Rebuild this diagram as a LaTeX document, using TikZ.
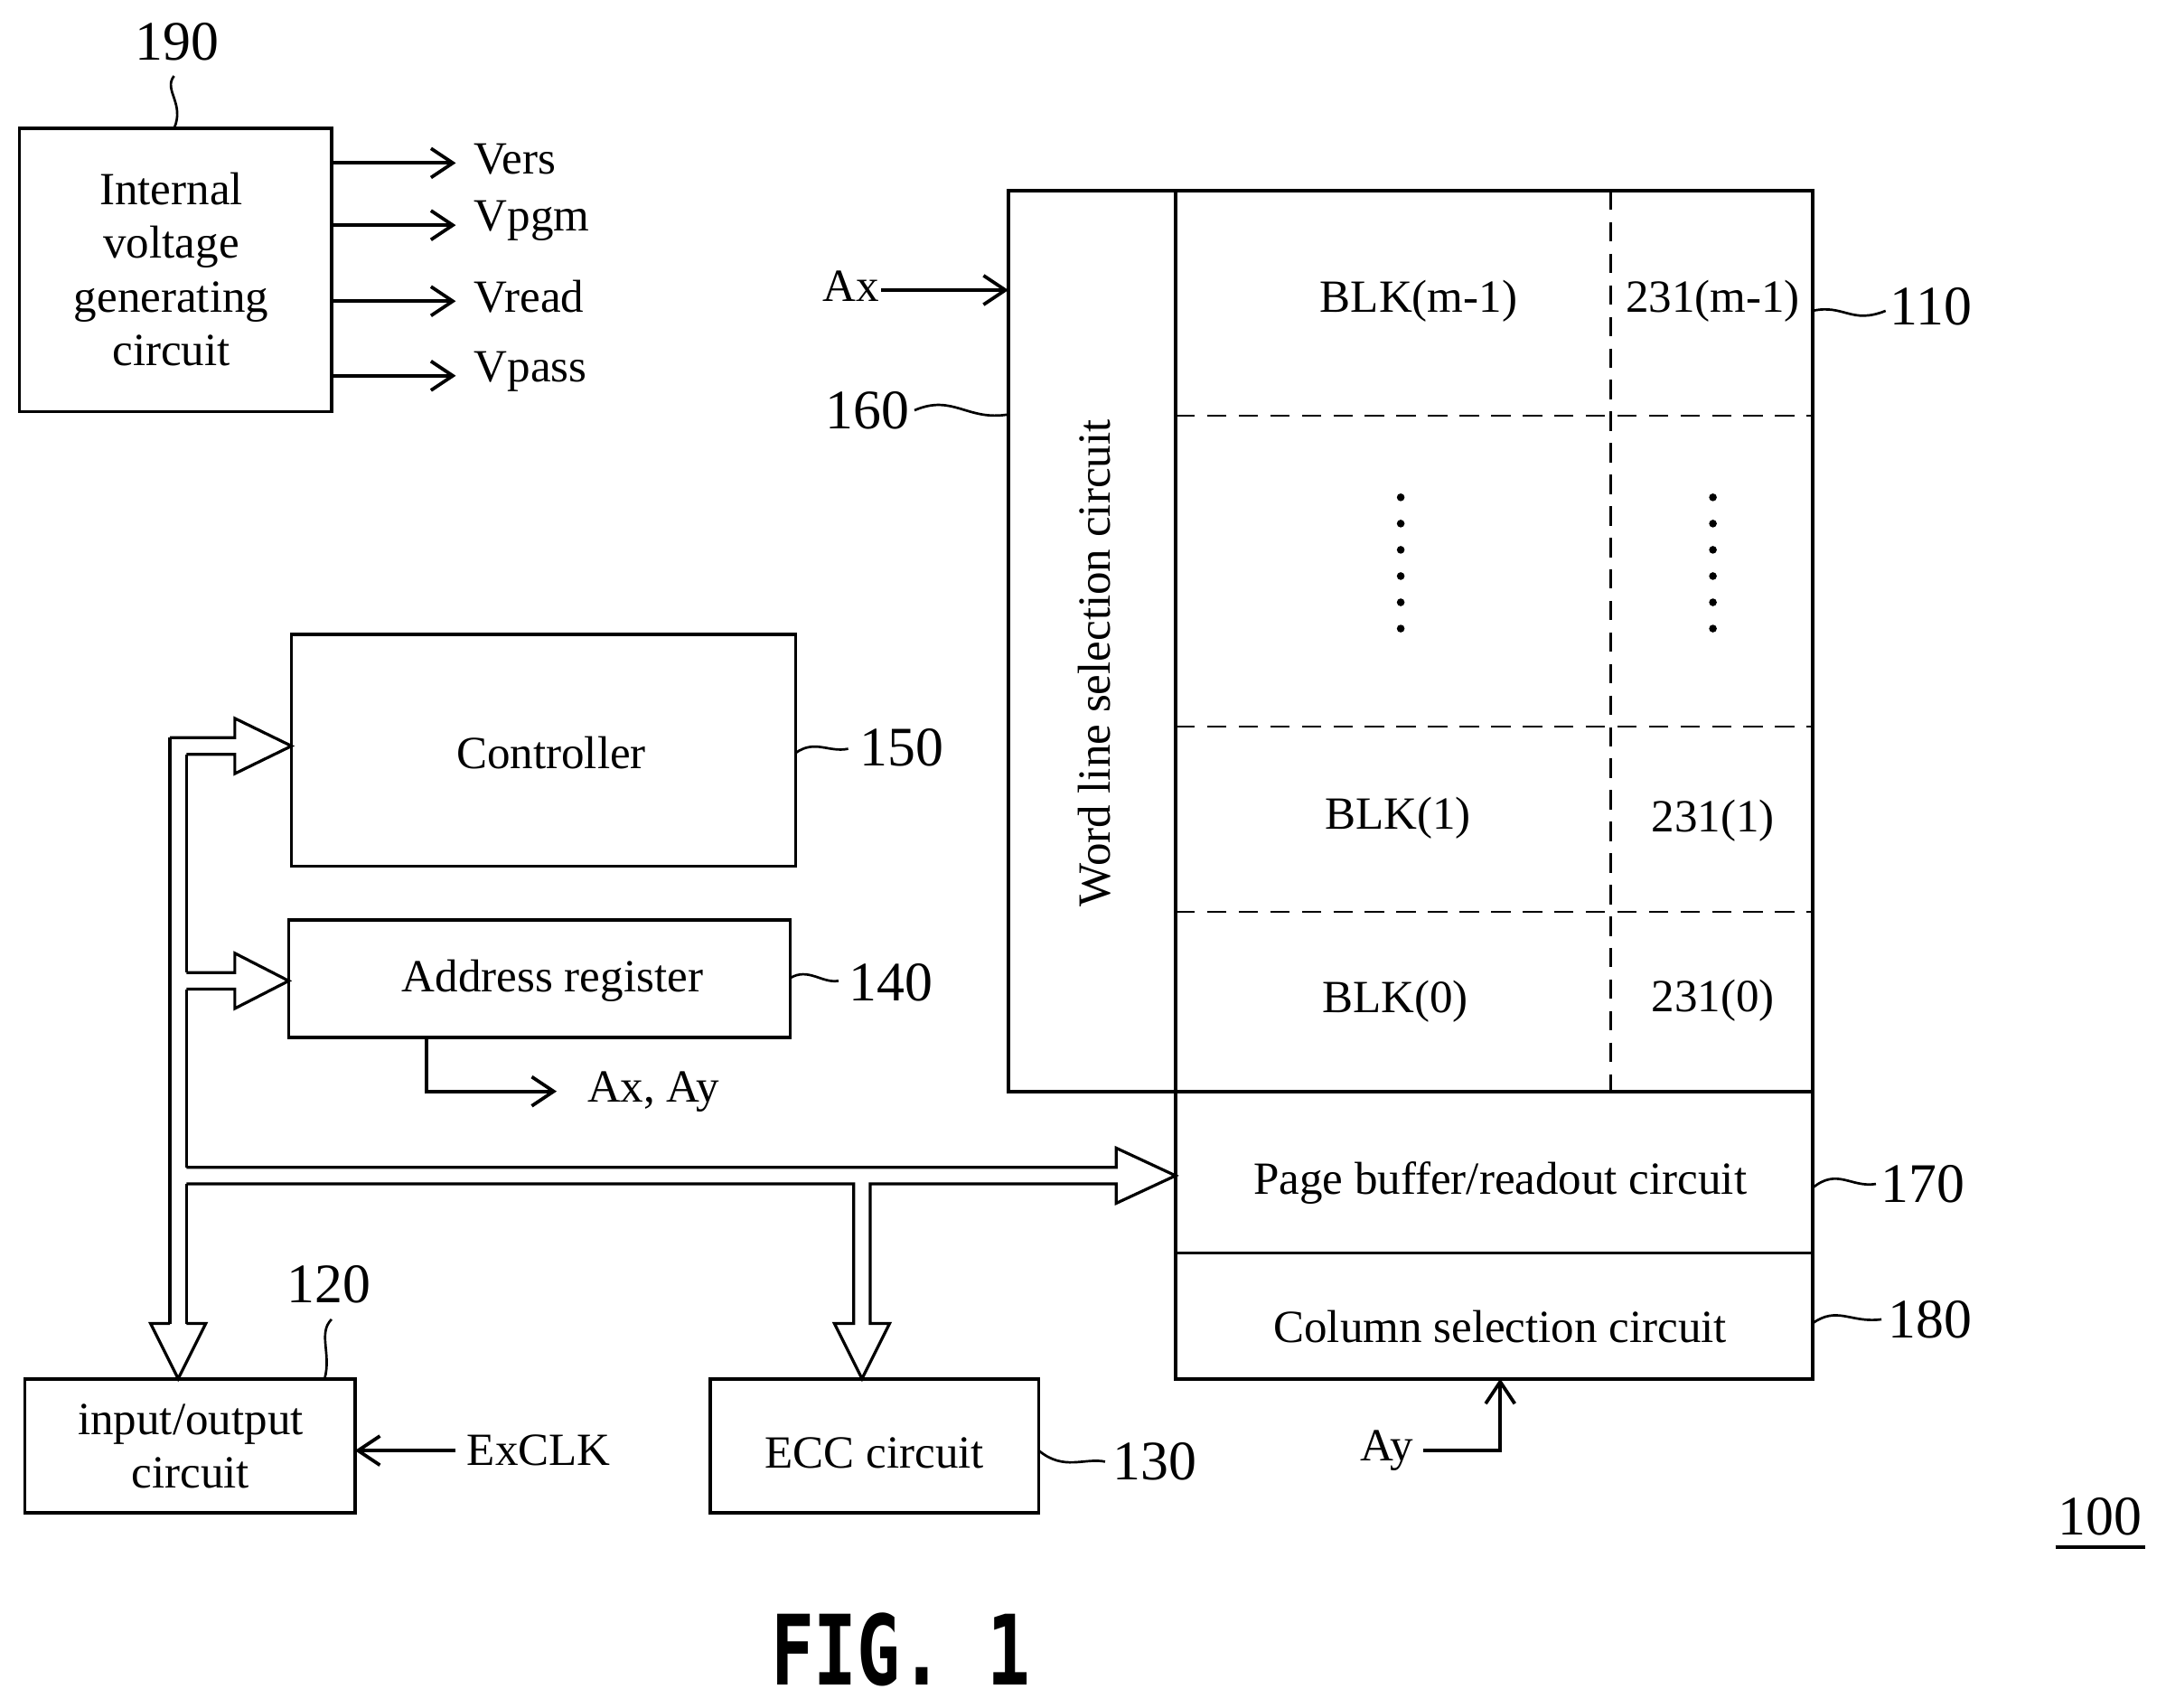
\documentclass[tikz,border=0pt]{standalone}
\usepackage{fontspec}
\usetikzlibrary{arrows.meta}
\setmainfont{Liberation Serif}
\newfontfamily\figfont{DejaVu Sans Mono}
\begin{document}
\begin{tikzpicture}[x=0.02cm,y=-0.02cm,line width=1.4pt,
 t/.style={font=\fontsize{19}{22}\selectfont,align=center,inner sep=0},
 num/.style={font=\fontsize{23}{26}\selectfont,inner sep=0},
 arr/.style={-{Straight Barb[length=9pt,width=12pt,line width=1.4pt]}},
 dsh/.style={dash pattern=on 8pt off 5pt,line width=1pt}]
\useasboundingbox (0,0) rectangle (1568,1236);
% 190
\draw (14,93) rectangle (240,298);
\node[t] (v190) at (124,195) {Internal\\voltage\\generating\\circuit};
\node[num] (n190) at (128,30) {190};
\draw[line width=1pt] (126,55) .. controls (118,65) and (134,75) .. (126,93);
\foreach \y/\l in {118/Vers,163/Vpgm,218/Vread,272/Vpass}{
 \coordinate (s\l) at (240,\y);
 \node[t,anchor=west] (o\l) at (342,\y-3) {\l};
 \draw[arr] (s\l) -- (330,\y);}
% array
\draw (730,138) rectangle (1312,790);
\draw (851,138) -- (851,790);
\draw[dsh] (1166,138) -- (1166,790);
\foreach \y in {301,526,660} \draw[dsh] (851,\y) -- (1312,\y);
\node[t] at (1027,218) {BLK(m-1)};
\node[t] at (1240,218) {231(m-1)};
\node[t] at (1012,592) {BLK(1)};
\node[t] at (1240,594) {231(1)};
\node[t] at (1010,725) {BLK(0)};
\node[t] at (1240,724) {231(0)};
\foreach \y in {360,379,398,417,436,455}{\fill (1014,\y) circle (1.6pt); \fill (1240,\y) circle (1.6pt);}
\node[t,rotate=90] (wl) at (792,480) {Word line selection circuit};
\node[t] (ax) at (616,207) {Ax};
\draw[arr] (638,210) -- (730,210);
\node[num] (n160) at (628,297) {160};
\draw[line width=1pt] (662,297) .. controls (690,285) and (700,305) .. (730,300);
\node[num] (n110) at (1398,222) {110};
\draw[line width=1pt] (1312,225) .. controls (1335,220) and (1340,235) .. (1365,225);
% page buffer, column
\draw (851,790) rectangle (1312,907);
\node[t] (pb) at (1086,856) {Page buffer/readout circuit};
\node[num] (n170) at (1392,857) {170};
\draw[line width=1pt] (1312,860) .. controls (1330,845) and (1340,860) .. (1358,857);
\draw (851,907) rectangle (1312,998);
\node[t] (cs) at (1086,960) {Column selection circuit};
\node[num] (n180) at (1397,955) {180};
\draw[line width=1pt] (1312,958) .. controls (1330,945) and (1340,958) .. (1362,955);
\node[t] (ay) at (1004,1050) {Ay};
\draw[arr] (1030,1050) -- (1086,1050) -- (1086,998);
% controller
\draw (211,459) rectangle (576,627);
\node[t] (ctl) at (399,545) {Controller};
\node[num] (n150) at (653,541) {150};
\draw[line width=1pt] (576,545) .. controls (590,535) and (600,545) .. (614,542);
\draw (209,666) rectangle (572,751);
\node[t] (ar) at (400,710) {Address register};
\node[num] (n140) at (645,711) {140};
\draw[line width=1pt] (572,708) .. controls (585,700) and (595,712) .. (607,710);
\draw[arr] (309,751) -- (309,790) -- (403,790);
\node[t,anchor=west] (axay) at (424,790) {Ax, Ay};
% io
\draw (18,998) rectangle (257,1095);
\node[t] (io) at (138,1047) {input/output\\circuit};
\node[num] (n120) at (238,930) {120};
\draw[line width=1pt] (240,955) .. controls (230,965) and (240,980) .. (235,998);
\node[t] (ex) at (390,1050) {ExCLK};
\draw[arr] (330,1050) -- (257,1050);
% ecc
\draw (514,998) rectangle (752,1095);
\node[t] (ecc) at (633,1052) {ECC circuit};
\node[num] (n130) at (836,1058) {130};
\draw[line width=1pt] (752,1050) .. controls (770,1065) and (785,1055) .. (800,1058);
% bus
\begin{scope}[line width=1.2pt]
\draw (123,534) -- (123,958);
\draw (135,546) -- (135,704) (135,716) -- (135,845) (135,857) -- (135,958);
\draw (123,534) -- (170,534) -- (170,520) -- (211,540) -- (170,560) -- (170,546) -- (135,546);
\draw (135,704) -- (170,704) -- (170,690) -- (209,710) -- (170,730) -- (170,716) -- (135,716);
\draw (135,845) -- (808,845) -- (808,831) -- (851,851) -- (808,871) -- (808,857) -- (630,857) -- (630,958) -- (644,958) -- (624,998) -- (604,958) -- (618,958) -- (618,857) -- (135,857);
\draw (123,958) -- (109,958) -- (129,998) -- (149,958) -- (135,958);
\end{scope}
\node[num] (n100) at (1520,1098) {100};
\draw (1488,1120) -- (1553,1120);
\node[inner sep=0] (fig) at (652,1194) {\scalebox{0.74}[1]{\figfont\bfseries\fontsize{40}{44}\selectfont FIG. 1}};
\end{tikzpicture}
\end{document}
